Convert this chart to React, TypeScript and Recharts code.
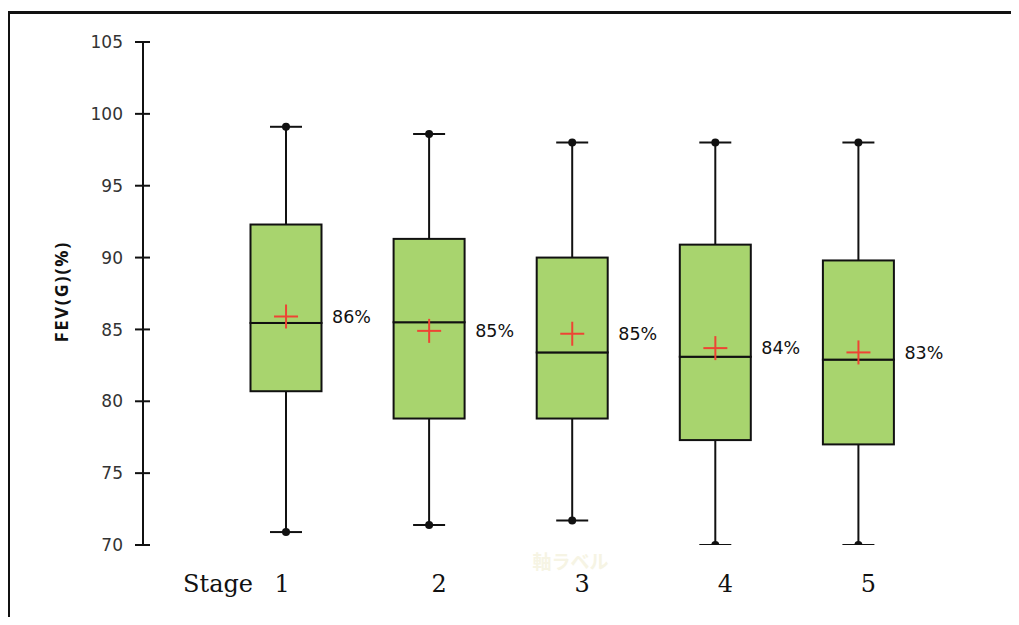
import React from 'react';
import { ComposedChart, Bar, Scatter, XAxis, YAxis } from 'recharts';

// values
const stages = ['1', '2', '3', '4', '5'];
const minV = [70.9, 71.4, 71.7, 70.0, 70.0];
const q1V = [80.7, 78.8, 78.8, 77.3, 77.0];
const medianV = [85.45, 85.5, 83.4, 83.1, 82.9];
const q3V = [92.3, 91.3, 90.0, 90.9, 89.8];
const maxV = [99.1, 98.6, 98.0, 98.0, 98.0];
const meanV = [85.9, 84.9, 84.7, 83.7, 83.4];
const meanLabels = ['86%', '85%', '85%', '84%', '83%'];
const yTicks = [70, 75, 80, 85, 90, 95, 100, 105];
const firstPrefix = 'Stage';
const yTitle = 'FEV(G)(%)';
const xTitleGhost = '軸ラベル';

const data = stages.map((s, i) => ({
  stage: s,
  base: minV[i],
  lowWhisker: q1V[i] - minV[i],
  lowBox: medianV[i] - q1V[i],
  highBox: q3V[i] - medianV[i],
  highWhisker: maxV[i] - q3V[i],
  mean: meanV[i],
  meanLabel: meanLabels[i],
}));

const BOX_FILL = '#a8d46e';
const INK = '#111';

const WhiskerLow = (p: any) => {
  const cx = p.x + p.width / 2;
  const bottom = p.y + p.height;
  return (
    <g>
      <line x1={cx} x2={cx} y1={p.y} y2={bottom} stroke={INK} strokeWidth={2} />
      <line x1={cx - 16} x2={cx + 16} y1={bottom} y2={bottom} stroke={INK} strokeWidth={2} />
      <circle cx={cx} cy={bottom} r={4} fill={INK} />
    </g>
  );
};

const WhiskerHigh = (p: any) => {
  const cx = p.x + p.width / 2;
  return (
    <g>
      <line x1={cx} x2={cx} y1={p.y} y2={p.y + p.height} stroke={INK} strokeWidth={2} />
      <line x1={cx - 16} x2={cx + 16} y1={p.y} y2={p.y} stroke={INK} strokeWidth={2} />
      <circle cx={cx} cy={p.y} r={4} fill={INK} />
    </g>
  );
};

const BoxPart = (p: any) => (
  <rect x={p.x} y={p.y} width={p.width} height={p.height} fill={BOX_FILL} stroke={INK} strokeWidth={2} />
);

const MeanMark = (p: any) => {
  const { cx, cy, payload } = p;
  return (
    <g>
      <line x1={cx - 12} x2={cx + 12} y1={cy} y2={cy} stroke="#ee4434" strokeWidth={2} />
      <line x1={cx} x2={cx} y1={cy - 12} y2={cy + 12} stroke="#ee4434" strokeWidth={2} />
      <text x={cx + 46} y={cy} dy="0.36em" fontFamily="DejaVu Sans" fontSize={17.5} fill="#111">
        {payload.meanLabel}
      </text>
    </g>
  );
};

const YTick = (p: any) => {
  const { x, y, payload } = p;
  return (
    <g>
      <line x1={x - 8} x2={x + 7} y1={y} y2={y} stroke={INK} strokeWidth={2} />
      <text x={x - 20} y={y} dy="0.36em" textAnchor="end" fontFamily="DejaVu Sans" fontSize={17} fill="#333">
        {payload.value}
      </text>
    </g>
  );
};

const XTick = (p: any) => {
  const { x, y, payload, index } = p;
  return (
    <g fontFamily="DejaVu Serif" fontSize={24} fill="#111">
      {index === 0 && (
        <text x={x - 33} y={y + 47} textAnchor="end">{firstPrefix}</text>
      )}
      <text x={index === 0 ? x - 4 : x + 10} y={y + 47} textAnchor="middle">{payload.value}</text>
    </g>
  );
};

const YTitle = (p: any) => {
  const vb = p.viewBox;
  const cx = vb.x + 62;
  const cy = vb.y + vb.height / 2 - 2;
  return (
    <text x={cx} y={cy} transform={`rotate(-90 ${cx} ${cy})`} textAnchor="middle" dy="0.36em"
      fontFamily="Open Sans" fontWeight={700} fontSize={18} letterSpacing={1.8} fill="#111">
      {yTitle}
    </text>
  );
};

const XGhost = (p: any) => {
  const vb = p.viewBox;
  return (
    <text x={vb.x + vb.width / 2 + 34} y={vb.y + 24} textAnchor="middle" fontFamily="Noto Sans CJK JP"
      fontWeight={700} fontSize={19} fill="#f6f4e4">
      {xTitleGhost}
    </text>
  );
};

export default function App() {
  return (
    <div style={{ position: 'relative', width: 1019, height: 625, margin: -8, overflow: 'hidden', background: '#fff' }}>
      <div style={{ position: 'absolute', left: 8, top: 11, right: -10, bottom: -10, borderTop: '3px solid #111', borderLeft: '2px solid #111' }} />
      <div style={{ position: 'absolute', left: 0, top: 0 }}>
        <ComposedChart width={1019} height={625} data={data} margin={{ top: 42, right: 89, bottom: 0, left: 0 }} barCategoryGap={0}>
          <XAxis dataKey="stage" type="category" height={80} axisLine={false} tickLine={false} tickSize={0} tickMargin={0}
            padding={{ left: 71.5, right: 0 }} tick={<XTick />} interval={0} label={<XGhost />} />
          <YAxis type="number" domain={[70, 105]} ticks={yTicks} allowDataOverflow width={143}
            axisLine={{ stroke: INK, strokeWidth: 2 }} tickLine={false} tickSize={0} tickMargin={0}
            tick={<YTick />} interval={0} label={<YTitle />} />
          <Bar dataKey="base" stackId="b" fill="transparent" barSize={71} isAnimationActive={false} />
          <Bar dataKey="lowWhisker" stackId="b" barSize={71} shape={<WhiskerLow />} isAnimationActive={false} />
          <Bar dataKey="lowBox" stackId="b" barSize={71} shape={<BoxPart />} isAnimationActive={false} />
          <Bar dataKey="highBox" stackId="b" barSize={71} shape={<BoxPart />} isAnimationActive={false} />
          <Bar dataKey="highWhisker" stackId="b" barSize={71} shape={<WhiskerHigh />} isAnimationActive={false} />
          <Scatter dataKey="mean" shape={<MeanMark />} isAnimationActive={false} />
        </ComposedChart>
      </div>
    </div>
  );
}
